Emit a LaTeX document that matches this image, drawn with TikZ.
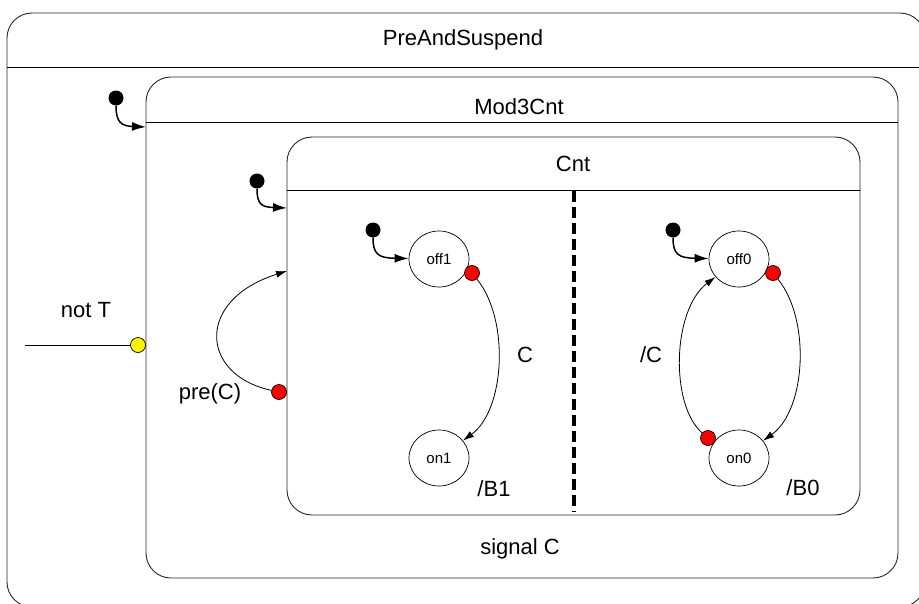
\documentclass[tikz,border=0pt]{standalone}
\usepackage{fontspec}
\setmainfont{Liberation Sans}
\usetikzlibrary{arrows.meta,positioning,shapes.geometric}

\begin{document}
\begin{tikzpicture}[
  x=1pt, y=-1pt,
  font=\fontsize{22}{26}\selectfont,
  region/.style={draw=black!85, line width=0.9pt, rounded corners=25pt, inner sep=0pt},
  state/.style={draw, ellipse, line width=0.7pt, minimum width=60pt, minimum height=56pt, inner sep=0pt, font=\fontsize{15}{18}\selectfont},
  port/.style={draw, circle, line width=0.7pt, minimum size=15pt, inner sep=0pt, fill=red},
  startdot/.style={circle, fill=black, minimum size=15pt, inner sep=0pt},
  init/.style={-{Latex[length=14pt,width=9pt]}, line width=1.5pt},
  trans/.style={-{Latex[length=11pt,width=7pt]}, line width=0.8pt}
]
\useasboundingbox (0,0) rectangle (919,603);

\node[region, minimum width=918pt, minimum height=594pt] (pre) at (466,310) {};
\node[region, minimum width=752pt, minimum height=501pt] (mod) at (522,327.5) {};
\node[region, minimum width=573pt, minimum height=378pt] (cnt) at (573.5,326) {};

\coordinate (preh) at (0,67);
\coordinate (modh) at (0,122);
\coordinate (cnth) at (0,190);
\draw[line width=0.9pt] (pre.west |- preh) -- (pre.east |- preh);
\draw[line width=0.9pt] (mod.west |- modh) -- (mod.east |- modh);
\draw[line width=0.9pt] (cnt.west |- cnth) -- (cnt.east |- cnth);

\node (pretitle) at (463,40) {PreAndSuspend};
\node (modtitle) at (519,107) {Mod3Cnt};
\node (cnttitle) at (573,164) {Cnt};

% parallel split
\draw[line width=3.4pt, dash pattern=on 11pt off 5pt] (574,191) -- (574,512);

\node[state] (off1) at (439,259) {off1};
\node[state] (on1) at (439,458) {on1};
\node[state] (off0) at (739,259) {off0};
\node[state] (on0) at (739,458) {on0};

\node[startdot] (s1) at (116,98) {};
\node[startdot] (s2) at (257,181) {};
\node[startdot] (s3) at (373,230) {};
\node[startdot] (s4) at (673,230) {};

\coordinate (modin) at (146,127);
\coordinate (cntin) at (287,208);
\coordinate (prein) at (287,271);
\coordinate (notT) at (25,345);

\draw[init] (s1) .. controls (116,122) and (121,126) .. (modin);
\draw[init] (s2) .. controls (257,205) and (262,207) .. (cntin);
\draw[init] (s3) .. controls (373,254) and (378,258) .. (off1);
\draw[init] (s4) .. controls (673,254) and (678,258) .. (off0);

\node[port] (p1) at (472,273) {};
\node[port] (p0) at (773,273) {};
\node[port] (q0) at (708,438) {};
\node[port] (pc) at (279,392) {};
\node[port, fill=yellow] (pt) at (138,345) {};

\draw[trans] (p1) .. controls (510,320) and (505,410) .. (on1);
\draw[trans] (p0) .. controls (811,320) and (806,410) .. (on0);
\draw[trans] (q0) .. controls (670,405) and (672,310) .. (off0);
\draw[trans] (pc) .. controls (200,375) and (195,300) .. (prein);
\draw[line width=0.9pt] (notT) -- (pt);

\node (lc) at (525,355) {C};
\node (lnc) at (651,355) {/C};
\node (lb1) at (494,489) {/B1};
\node (lb0) at (803,488) {/B0};
\node (lpre) at (210,394) {pre(C)};
\node (lnot) at (86,310) {not T};
\node (lsig) at (520,549) {signal C};

\end{tikzpicture}
\end{document}
